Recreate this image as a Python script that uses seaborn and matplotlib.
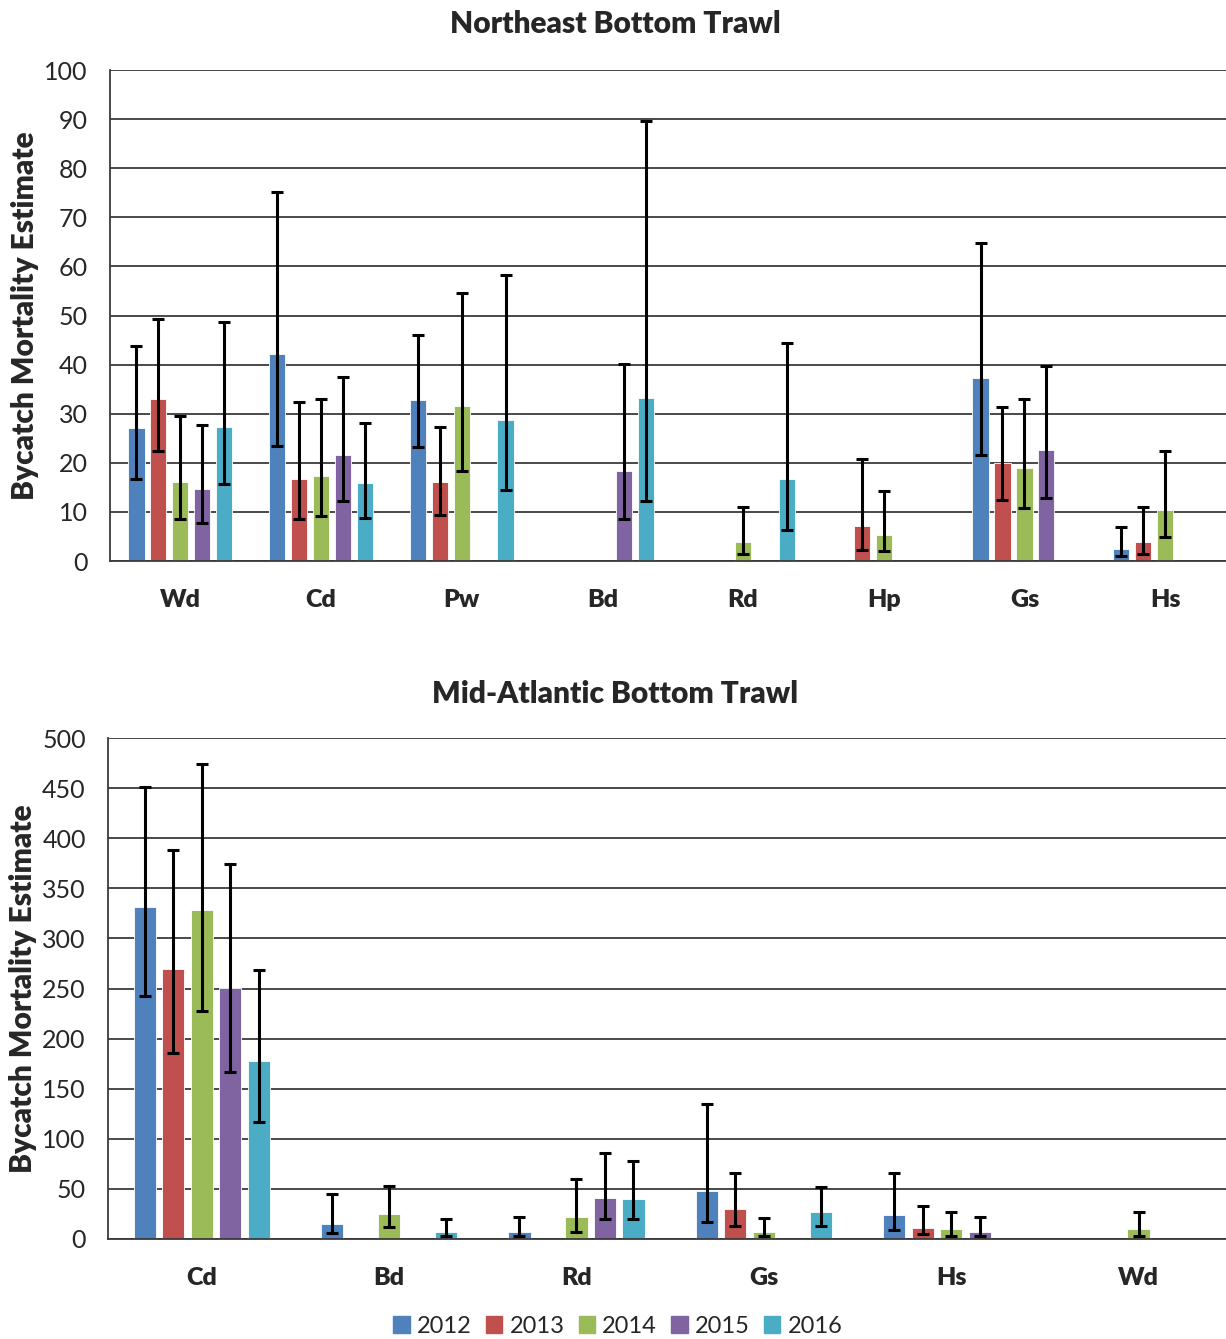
import pandas as pd
import numpy as np
import matplotlib
matplotlib.use("Agg")
import matplotlib.pyplot as plt
import seaborn as sns

years = ["2012", "2013", "2014", "2015", "2016"]
colors = ["#4F81BD", "#C0504D", "#9BBB59", "#8064A2", "#4BACC6"]

# Northeast Bottom Trawl: estimate, lower CI, upper CI per species (rows) and year (cols)
ne_species = ["Wd", "Cd", "Pw", "Bd", "Rd", "Hp", "Gs", "Hs"]
ne_est = [
    [27.1, 33.0, 16.1, 14.7, 27.4],
    [42.1, 16.7, 17.3, 21.5, 15.8],
    [32.7, 16.1, 31.6, None, 28.8],
    [None, None, None, 18.3, 33.3],
    [None, None, 3.9, None, 16.7],
    [None, 7.1, 5.4, None, None],
    [37.3, 19.9, 19.0, 22.7, None],
    [2.5, 3.9, 10.4, None, None],
]
ne_low = [
    [16.8, 22.4, 8.5, 7.7, 15.6],
    [23.5, 8.5, 9.1, 12.2, 8.8],
    [23.2, 9.4, 18.4, None, 14.4],
    [None, None, None, 8.5, 12.2],
    [None, None, 1.4, None, 6.3],
    [None, 2.3, 2.0, None, None],
    [21.5, 12.5, 10.9, 12.8, None],
    [1.0, 1.5, 4.9, None, None],
]
ne_high = [
    [43.8, 49.3, 29.6, 27.8, 48.6],
    [75.1, 32.3, 33.1, 37.4, 28.1],
    [46.1, 27.4, 54.6, None, 58.3],
    [None, None, None, 40.2, 89.7],
    [None, None, 11.1, None, 44.4],
    [None, 20.8, 14.2, None, None],
    [64.8, 31.4, 33.1, 39.8, None],
    [6.9, 11.1, 22.5, None, None],
]

# Mid-Atlantic Bottom Trawl
ma_species = ["Cd", "Bd", "Rd", "Gs", "Hs", "Wd"]
ma_est = [
    [331.1, 269.1, 328.4, 250.8, 177.5],
    [15.3, None, 25.3, None, 7.3],
    [7.4, None, 21.5, 40.9, 39.6],
    [47.7, 29.5, 7.4, None, 26.5],
    [24.2, 11.4, 10.1, 7.4, None],
    [None, None, 10.1, None, None],
]
ma_low = [
    [242.5, 185.9, 227.5, 166.6, 116.9],
    [6.0, None, 11.7, None, 3.3],
    [3.4, None, 7.4, 20.1, 19.8],
    [17.1, 13.1, 3.4, None, 13.1],
    [8.7, 4.7, 3.4, 3.4, None],
    [None, None, 3.4, None, None],
]
ma_high = [
    [451.0, 388.4, 474.3, 374.4, 268.1],
    [45.3, None, 53.3, None, 20.0],
    [21.8, None, 59.4, 85.9, 77.5],
    [134.6, 66.1, 20.5, None, 52.0],
    [66.1, 32.6, 27.2, 21.8, None],
    [None, None, 27.2, None, None],
]


def to_frame(species, est, low, high):
    rows = []
    for i, sp in enumerate(species):
        for j, yr in enumerate(years):
            if est[i][j] is None:
                continue
            rows.append({"species": sp, "year": yr, "est": est[i][j],
                         "low": low[i][j], "high": high[i][j]})
    return pd.DataFrame(rows)


def draw(ax, df, species, ymax, ystep, width, gap):
    sns.barplot(data=df, x="species", y="est", hue="year", order=species,
                hue_order=years, palette=colors, saturation=1, errorbar=None,
                width=width, gap=gap, edgecolor="white", linewidth=0.6,
                legend=False, ax=ax)
    # asymmetric confidence intervals placed on the drawn bars
    for yr, cont in zip(years, ax.containers):
        sub = df[df["year"] == yr].set_index("species")
        for bar in cont:
            if np.isnan(bar.get_height()):
                continue
            xc = bar.get_x() + bar.get_width() / 2
            sp = species[int(round(xc))]
            r = sub.loc[sp]
            ax.errorbar(xc, r["est"], yerr=[[r["est"] - r["low"]], [r["high"] - r["est"]]],
                        fmt="none", ecolor="black", elinewidth=2.2, capsize=4.5,
                        capthick=2.2, zorder=5)
    ax.set_xlim(-0.5, len(species) - 0.5)
    ax.set_ylim(0, ymax)
    ax.set_yticks(np.arange(0, ymax + 1, ystep))
    ax.yaxis.grid(True, color="#3a3a3a", linewidth=1.3)
    ax.xaxis.grid(False)
    ax.set_axisbelow(True)
    for s in ["top", "right"]:
        ax.spines[s].set_visible(False)
    ax.spines["left"].set_color("#3a3a3a")
    ax.spines["bottom"].set_color("#3a3a3a")
    ax.spines["left"].set_linewidth(1.3)
    ax.spines["bottom"].set_linewidth(1.3)
    ax.tick_params(axis="y", length=0, labelsize=18, pad=16)
    ax.tick_params(axis="x", which="major", length=0, labelsize=18, pad=20)
    ax.set_xticks(np.arange(-0.5, len(species), 1.0), minor=True)
    ax.tick_params(axis="x", which="minor", direction="inout", length=13,
                   width=1.2, color="#3a3a3a")
    for lbl in ax.get_xticklabels():
        lbl.set_fontweight("heavy")
    ax.set_xlabel("")
    ax.set_ylabel("Bycatch Mortality Estimate", fontsize=21.5, fontweight="heavy", labelpad=4)


sns.set_style("white")
plt.rcParams["font.family"] = ["Lato", "DejaVu Sans"]

fig = plt.figure(figsize=(12.26, 13.39), dpi=100)
ax1 = fig.add_axes([0.0897, 0.581, 0.918, 0.3667])
ax2 = fig.add_axes([0.0881, 0.0747, 0.917, 0.3741])

draw(ax1, to_frame(ne_species, ne_est, ne_low, ne_high), ne_species, 100, 10, 0.78, 0.26)
draw(ax2, to_frame(ma_species, ma_est, ma_low, ma_high), ma_species, 500, 50, 0.76, 0.22)

fig.text(0.502, 0.982, "Northeast Bottom Trawl", ha="center", va="center",
         fontsize=21.5, fontweight="heavy")
fig.text(0.502, 0.482, "Mid-Atlantic Bottom Trawl", ha="center", va="center",
         fontsize=21.5, fontweight="heavy")

handles = [plt.Rectangle((0, 0), 1, 1, color=c) for c in colors]
fig.legend(handles, years, loc="center", bbox_to_anchor=(0.504, 0.0095), ncol=5,
           frameon=False, fontsize=17, handlelength=0.7, handleheight=0.7,
           handletextpad=0.3, columnspacing=0.6)

fig.savefig("out.png", dpi=100)
